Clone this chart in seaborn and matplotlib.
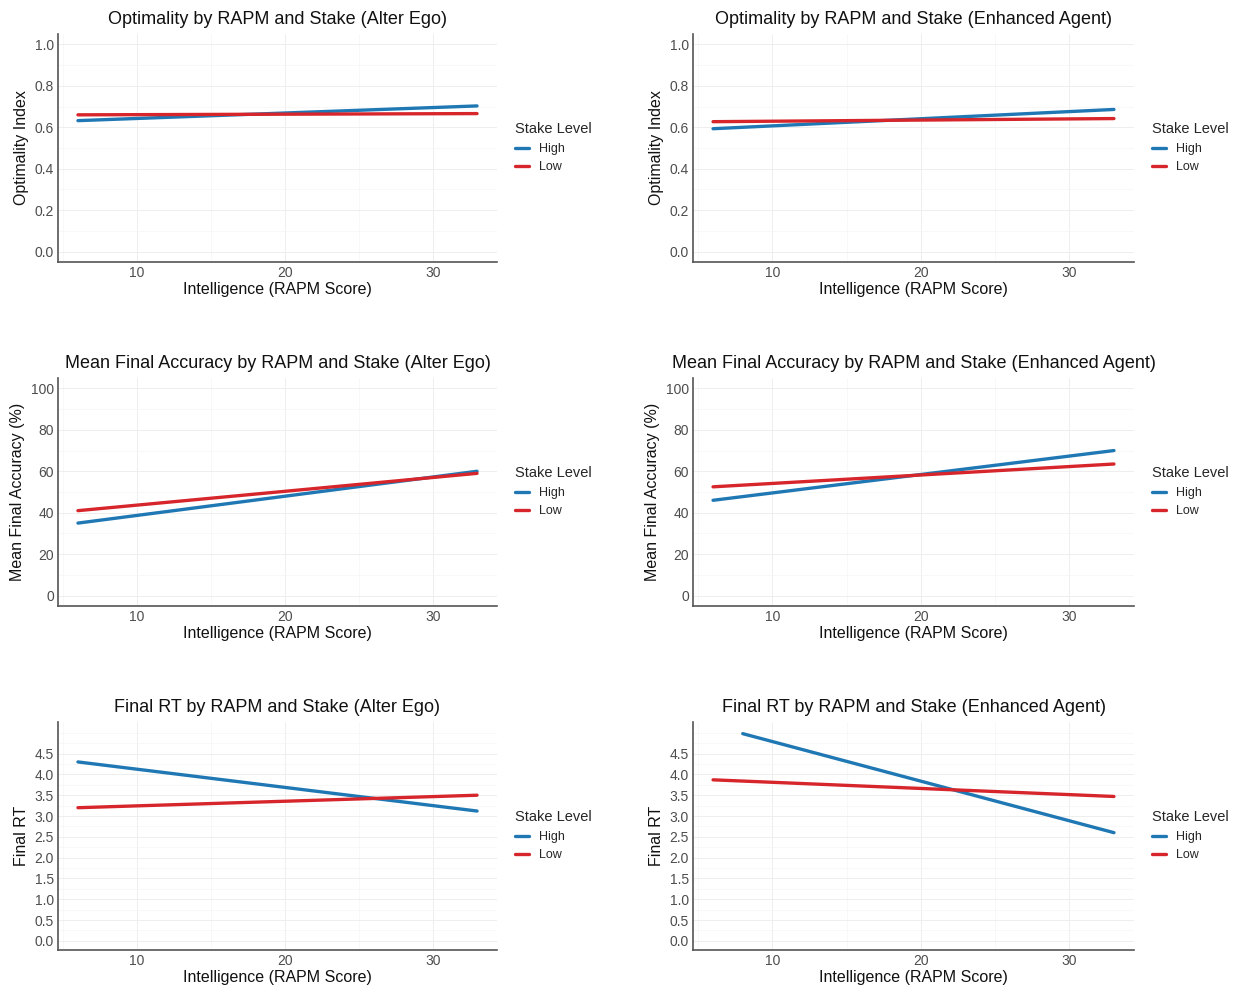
import numpy as np
import pandas as pd
import matplotlib
matplotlib.use("Agg")
import matplotlib.pyplot as plt
import seaborn as sns

sns.set_theme(style="white")
plt.rcParams['font.family'] = ['Liberation Sans', 'DejaVu Sans']

# ---- data (fitted line endpoints) ----
stake_levels = ["High", "Low"]
x_high_start = [6, 6, 6, 6, 6, 8]
x_low_start = [6, 6, 6, 6, 6, 6]
x_end = [33, 33, 33, 33, 33, 33]

opt_ae_high = [0.632, 0.703]
opt_ae_low = [0.660, 0.666]
opt_ea_high = [0.593, 0.686]
opt_ea_low = [0.627, 0.642]
acc_ae_high = [35.0, 60.0]
acc_ae_low = [41.0, 59.0]
acc_ea_high = [46.0, 70.0]
acc_ea_low = [52.5, 63.5]
rt_ae_high = [4.30, 3.12]
rt_ae_low = [3.20, 3.50]
rt_ea_high = [4.98, 2.60]
rt_ea_low = [3.87, 3.47]

titles = [
    "Optimality by RAPM and Stake (Alter Ego)",
    "Optimality by RAPM and Stake (Enhanced Agent)",
    "Mean Final Accuracy by RAPM and Stake (Alter Ego)",
    "Mean Final Accuracy by RAPM and Stake (Enhanced Agent)",
    "Final RT by RAPM and Stake (Alter Ego)",
    "Final RT by RAPM and Stake (Enhanced Agent)",
]
ylabels = ["Optimality Index", "Optimality Index",
           "Mean Final Accuracy (%)", "Mean Final Accuracy (%)",
           "Final RT", "Final RT"]
x_label = "Intelligence (RAPM Score)"
series = [(opt_ae_high, opt_ae_low), (opt_ea_high, opt_ea_low),
          (acc_ae_high, acc_ae_low), (acc_ea_high, acc_ea_low),
          (rt_ae_high, rt_ae_low), (rt_ea_high, rt_ea_low)]

palette = {"High": "#1F78B4", "Low": "#D7262B"}

W, H = 1236, 991
fig = plt.figure(figsize=(W / 100, H / 100), dpi=100)

col_px = [(58, 497), (693, 1134)]
row_px = [(34, 262), (378, 606), (722, 950)]

ycfg = [
    dict(lim=(-0.05, 1.05), major=np.arange(0, 1.01, 0.2), minor=np.arange(0.1, 1.0, 0.2), fmt="{:.1f}"),
    dict(lim=(-0.05, 1.05), major=np.arange(0, 1.01, 0.2), minor=np.arange(0.1, 1.0, 0.2), fmt="{:.1f}"),
    dict(lim=(-5, 105), major=np.arange(0, 101, 20), minor=np.arange(10, 100, 20), fmt="{:.0f}"),
    dict(lim=(-5, 105), major=np.arange(0, 101, 20), minor=np.arange(10, 100, 20), fmt="{:.0f}"),
    dict(lim=(-0.22, 5.26), major=np.arange(0, 4.51, 0.5), minor=np.arange(0.25, 5.01, 0.25), fmt="{:.1f}"),
    dict(lim=(-0.22, 5.26), major=np.arange(0, 4.51, 0.5), minor=np.arange(0.25, 5.01, 0.25), fmt="{:.1f}"),
]

for i in range(6):
    r, c = divmod(i, 2)
    x0, x1 = col_px[c]
    y0, y1 = row_px[r]
    ax = fig.add_axes([x0 / W, 1 - y1 / H, (x1 - x0) / W, (y1 - y0) / H])
    hi, lo = series[i]
    df = pd.DataFrame({
        "x": [x_high_start[i], x_end[i], x_low_start[i], x_end[i]],
        "y": hi + lo,
        "Stake Level": ["High", "High", "Low", "Low"],
    })
    sns.lineplot(data=df, x="x", y="y", hue="Stake Level", hue_order=stake_levels,
                 palette=palette, lw=2.4, ax=ax, zorder=3)
    ax.set_xlim(4.65, 34.35)
    cfg = ycfg[i]
    ax.set_ylim(*cfg["lim"])
    ax.set_xticks([10, 20, 30])
    ax.set_xticks([5, 15, 25], minor=True)
    ax.set_yticks(cfg["major"])
    ax.set_yticklabels([cfg["fmt"].format(v) for v in cfg["major"]])
    ax.set_yticks([v for v in cfg["minor"] if not np.any(np.isclose(v, cfg["major"]))], minor=True)
    ax.grid(True, which="major", color="#EEEEEE", lw=0.7, zorder=0)
    ax.grid(True, which="minor", color="#F5F5F5", lw=0.5, zorder=0)
    ax.tick_params(axis="both", which="both", length=0, labelsize=10, labelcolor="#4D4D4D", pad=3)
    for s in ["top", "right"]:
        ax.spines[s].set_visible(False)
    for s in ["left", "bottom"]:
        ax.spines[s].set_color("#555555")
        ax.spines[s].set_linewidth(1.2)
    ax.set_title(titles[i], fontsize=13, color="#111111", pad=7)
    ax.set_xlabel(x_label, fontsize=11.5, color="#111111", labelpad=1)
    ax.set_ylabel(ylabels[i], fontsize=11.5, color="#111111", labelpad=4)
    leg = ax.legend(title="Stake Level", loc="upper left", bbox_to_anchor=(1.03, 0.635),
                    frameon=False, fontsize=9, title_fontsize=10.5, handlelength=1.1,
                    handletextpad=0.8, labelspacing=0.5, borderaxespad=0)
    leg._legend_box.align = "left"
    leg._legend_box.sep = 5
    for line in leg.get_lines():
        line.set_linewidth(2.4)

fig.savefig("out.png", dpi=100, facecolor="white")
